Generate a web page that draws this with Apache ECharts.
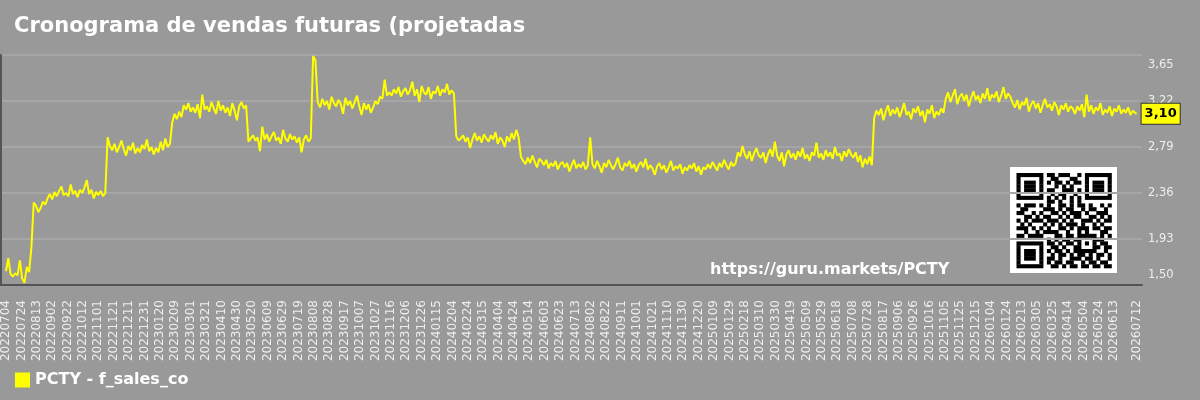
<!DOCTYPE html>
<html><head><meta charset="utf-8">
<script src="https://cdn.jsdelivr.net/npm/echarts@6/dist/echarts.min.js"></script>
<style>html,body{margin:0;padding:0;background:#999999;}#c{width:1200px;height:400px;}</style>
</head><body><div id="c"></div>
<script>
const titleText = 'Cronograma de vendas futuras (projetadas';
const seriesName = 'PCTY - f_sales_co';
const watermarkText = 'https://guru.markets/PCTY';
const startYear = 2022, startMonth = 7, startDay = 4;
const dayCount = 1470;
const sampleStep = 3;           // one reading every 3 days
const yTicks = [1.50, 1.93, 2.36, 2.79, 3.22, 3.65];

// readings (every 3 days), grouped by phase
const phase1 = [1.63,1.75,1.60,1.58,1.61,1.59,1.73,1.56,1.52,1.67,1.62,1.85];
const phase2 = [2.27,2.24,2.18,2.22,2.28,2.25,2.31,2.35,2.30,2.37,2.33,2.38,2.42,2.34,2.36,2.33,2.44,2.35,2.38,2.32,2.39,2.36,2.41,2.48,2.35,2.39,2.31,2.37,2.34,2.38,2.33,2.36];
const phase3 = [2.88,2.80,2.76,2.82,2.74,2.79,2.85,2.77,2.71,2.80,2.76,2.83,2.73,2.78,2.74,2.81,2.77,2.86,2.75,2.79,2.72,2.78,2.74,2.84,2.76,2.87,2.79,2.82];
const phase4 = [3.02,3.10,3.05,3.12,3.07,3.18,3.14,3.20,3.12,3.16,3.11,3.19,3.06,3.28,3.14,3.17,3.12,3.21,3.15,3.10,3.22,3.13,3.18,3.11,3.16,3.08,3.20,3.13,3.04,3.17,3.21,3.15,3.18];
const phase5 = [2.84,2.87,2.90,2.85,2.88,2.75,2.98,2.86,2.91,2.84,2.89,2.93,2.85,2.88,2.82,2.95,2.87,2.84,2.91,2.86,2.89,2.83,2.88,2.74,2.86,2.90,2.84,2.87];
const phase6 = [3.64,3.60];
const phase7 = [3.21,3.16,3.24,3.18,3.22,3.14,3.26,3.20,3.17,3.23,3.19,3.10,3.25,3.18,3.22,3.15,3.21,3.27,3.17,3.09,3.20,3.14,3.19,3.11,3.16,3.22,3.19,3.26,3.24,3.42,3.27];
const phase8 = [3.30,3.27,3.33,3.29,3.35,3.26,3.31,3.34,3.28,3.32,3.40,3.27,3.33,3.21,3.36,3.30,3.28,3.35,3.24,3.31,3.29,3.36,3.27,3.33,3.30,3.38,3.28,3.32,3.29];
const phase9 = [2.89,2.85,2.87,2.90,2.84,2.88,2.78,2.86,2.92,2.85,2.89,2.83,2.91,2.87,2.84,2.90,2.86,2.93,2.82,2.88,2.85,2.79,2.89,2.84,2.92,2.86,2.95,2.88];
const phase10 = [2.70,2.66,2.63,2.69,2.64,2.71,2.65,2.60,2.68,2.66,
  2.62,2.67,2.59,2.64,2.61,2.66,2.58,2.63,2.65,2.60,
  2.64,2.56,2.62,2.67,2.59,2.63,2.60,2.65,2.58,2.62,
  2.88,
  2.63,2.59,2.66,2.61,2.55,2.64,2.60,2.67,2.62,2.58,
  2.63,2.69,2.60,2.57,2.64,2.61,2.66,2.59,2.63,2.56,
  2.62,2.65,2.60,2.68,2.58,2.62,2.59,2.53,2.61,2.64,
  2.58,2.62,2.55,2.60,2.66,2.57,2.61,2.59,2.63,2.54,
  2.60,2.57,2.62,2.59,2.64,2.56,2.61,2.53,2.60,2.58,
  2.63,2.59,2.65,2.61,2.57,2.64,2.60,2.67,2.62,2.58,2.65,2.61,2.64];
const phase11 = [2.74,2.70,2.80,2.72,2.68,2.75,2.66,2.73,2.78,2.71,
  2.69,2.74,2.64,2.72,2.77,2.70,2.84,2.71,2.66,2.74,
  2.61,2.72,2.76,2.69,2.73,2.67,2.75,2.70,2.78,2.68,
  2.72,2.66,2.74,2.71,2.83,2.69,2.73,2.67,2.76,2.70,
  2.74,2.68,2.79,2.71,2.73,2.66,2.75,2.70,2.77,2.72,
  2.69,2.74,2.65,2.71,2.60,2.68,2.63,2.70,2.62];
const phase12 = [3.06,3.13,3.09,3.15,3.04,3.12,3.18,3.08,3.14,3.10,
  3.16,3.07,3.13,3.20,3.09,3.12,3.05,3.15,3.11,3.17,
  3.08,3.13,3.02,3.14,3.10,3.18,3.06,3.12,3.09,3.15,3.11];
const phase13 = [3.24,3.30,3.21,3.27,3.33,3.19,3.26,3.29,3.22,3.28,
  3.17,3.25,3.31,3.23,3.27,3.20,3.29,3.24,3.34,3.22,
  3.28,3.25,3.31,3.21,3.27,3.35,3.24,3.29,3.26];
const phase14 = [3.20,3.16,3.23,3.14,3.21,3.18,3.25,3.12,3.19,3.22,
  3.15,3.20,3.11,3.18,3.24,3.16,3.19,3.13,3.21,3.17,
  3.09,3.18,3.14,3.20,3.12,3.17,3.15,3.10,3.17,3.13,
  3.19,3.07,3.28,3.12,3.18,3.10,3.16,3.13,3.20,3.09,
  3.14,3.11,3.17,3.08,3.15,3.12,3.18,3.10,3.14,3.11,
  3.16,3.09,3.13,3.11];
const lastValue = 3.10;         // reading on 20260712

const qrRows = [
  "1111111011011100101111111",
  "1000001001100011001000001",
  "1011101010110101101011101",
  "1011101000101010001011101",
  "1011101011001110101011101",
  "1000001001011001001000001",
  "1111111010101010101111111",
  "0000000011010010100000000",
  "1011101010011010110100101",
  "0110000111010110010110010",
  "1100101001101011101001110",
  "0011010110010101100110101",
  "1010111011101010011101011",
  "0101000101010111010010100",
  "1110101010011010111011011",
  "0010010111100100101000110",
  "1101111000110110111110101",
  "0000000010101101100011100",
  "1111111011010110101010110",
  "1000001001101001100011011",
  "1011101010110101111110010",
  "1011101001011010110101101",
  "1011101011010011101101001",
  "1000001010110110010110110",
  "1111111001101011011011011"
];

// ---- build ----
const pad = 7;
const categories = [];
const t0 = Date.UTC(startYear, startMonth - 1, startDay);
for (let i = 0; i < dayCount; i++) {
  const d = new Date(t0 + i * 86400000);
  categories.push(String(d.getUTCFullYear()) + String(d.getUTCMonth() + 1).padStart(2, '0') + String(d.getUTCDate()).padStart(2, '0'));
}
const xData = [];
for (let i = 0; i < pad; i++) xData.push('_a' + i);
categories.forEach(c => xData.push(c));
for (let i = 0; i < pad; i++) xData.push('_b' + i);

const readings = [].concat(phase1, phase2, phase3, phase4, phase5, phase6, phase7, phase8, phase9, phase10, phase11, phase12, phase13, phase14);
const seriesData = readings.map((v, k) => [pad + k * sampleStep, v]);
seriesData.push([pad + dayCount - 1, lastValue]);

const fmt = v => Number(v).toFixed(2).replace('.', ',');

// QR graphic (decorative)
const qrX = 1016.5, qrY = 173, mod = 3.8;
const qrChildren = [{type: 'rect', shape: {x: 1010, y: 167, width: 107, height: 106}, style: {fill: '#ffffff'}}];
qrRows.forEach((row, r) => {
  let c = 0;
  while (c < row.length) {
    if (row[c] === '1') {
      let e = c;
      while (e < row.length && row[e] === '1') e++;
      qrChildren.push({type: 'rect', shape: {x: qrX + c * mod, y: qrY + r * mod, width: (e - c) * mod + 0.3, height: mod + 0.3}, style: {fill: '#000000'}});
      c = e;
    } else c++;
  }
});

const chart = echarts.init(document.getElementById('c'), null, {renderer: 'canvas'});
chart.setOption({
  backgroundColor: '#999999',
  animation: false,
  textStyle: {fontFamily: 'DejaVu Sans'},
  title: {text: titleText, left: 9, top: 11, textStyle: {color: '#ffffff', fontSize: 21, fontWeight: 'bold', fontFamily: 'DejaVu Sans'}},
  legend: {
    left: 15, top: 372, padding: 0, icon: 'rect', itemWidth: 15, itemHeight: 15, itemGap: 10,
    textStyle: {color: '#ffffff', fontSize: 16, fontWeight: 'bold', fontFamily: 'DejaVu Sans'},
    data: [seriesName]
  },
  grid: {left: 0, right: 58, top: 55, bottom: 115, containLabel: false},
  xAxis: {
    type: 'category', data: xData, boundaryGap: false,
    axisLine: {show: true, lineStyle: {color: '#555555', width: 2}},
    axisTick: {show: false},
    splitLine: {show: false},
    axisLabel: {
      rotate: 90, color: '#eeeeee', fontSize: 12, margin: 15, fontFamily: 'DejaVu Sans',
      interval: (idx) => {
        const i = idx - pad;
        if (i < 0 || i >= dayCount) return false;
        return (i % 20 === 0 && i <= dayCount - 30) || i === dayCount - 1;
      },
      formatter: v => (v.charAt(0) === '_' ? '' : v)
    }
  },
  yAxis: [{
    type: 'value', position: 'right',
    min: yTicks[0], max: yTicks[yTicks.length - 1],
    axisLine: {show: false},
    axisTick: {show: false, customValues: yTicks},
    splitLine: {show: true, lineStyle: {color: '#a6a6a6', width: 2}},
    axisLabel: {
      customValues: yTicks, color: '#eeeeee', fontSize: 11.5, lineHeight: 20, margin: 6, fontFamily: 'DejaVu Sans',
      formatter: fmt, verticalAlignMinLabel: 'bottom', verticalAlignMaxLabel: 'top'
    }
  }, {
    type: 'value', position: 'left', min: 0, max: 1,
    axisLine: {show: true, lineStyle: {color: '#555555', width: 2}},
    axisTick: {show: false}, axisLabel: {show: false}, splitLine: {show: false}
  }],
  series: [{
    name: seriesName, type: 'line', data: seriesData, yAxisIndex: 0,
    showSymbol: false, symbol: 'none',
    itemStyle: {color: '#ffff00'},
    lineStyle: {color: '#ffff00', width: 2},
    endLabel: {
      show: true, distance: 5, formatter: p => fmt(p.value[1]),
      backgroundColor: '#ffff00', borderColor: '#333333', borderWidth: 1,
      color: '#000000', fontWeight: 'bold', fontSize: 13, lineHeight: 16, padding: [2, 3],
      fontFamily: 'DejaVu Sans'
    }
  }],
  graphic: [
    {type: 'text', left: 710, top: 262, style: {text: watermarkText, fill: '#ffffff', font: 'bold 16px "DejaVu Sans"'}},
    {type: 'group', children: qrChildren}
  ]
});
</script></body></html>
